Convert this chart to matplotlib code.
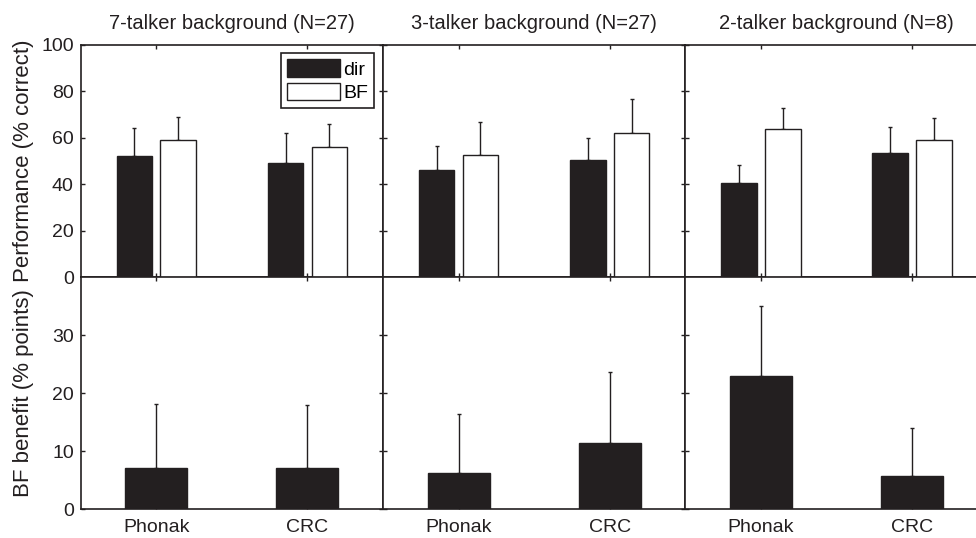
import numpy as np
import matplotlib
matplotlib.use("Agg")
import matplotlib.pyplot as plt
from matplotlib.patches import Patch

plt.rcParams['font.family'] = ['Liberation Sans', 'DejaVu Sans']

# data
panels = ["7-talker background (N=27)", "3-talker background (N=27)", "2-talker background (N=8)"]
devices = ["Phonak", "CRC"]

dir_mean = [[52.1, 49.0], [46.3, 50.6], [40.7, 53.4]]
dir_top = [[64.1, 61.9], [56.3, 59.8], [48.4, 64.7]]
bf_mean = [[59.2, 56.2], [52.6, 62.0], [63.8, 59.0]]
bf_top = [[69.0, 65.8], [66.9, 76.5], [72.9, 68.4]]

benefit_mean = [[7.2, 7.1], [6.3, 11.5], [22.9, 5.7]]
benefit_top = [[18.2, 18.0], [16.4, 23.6], [35.0, 14.1]]

dark = "#231f20"
W, H = 976, 538

fig = plt.figure(figsize=(W / 100, H / 100), dpi=100)

left = 80.7 / W
pw = 302.3 / W
bot_b = (H - 509.3) / H
ph = 232.0 / H
top_b = (H - 277.3) / H
th = (277.3 - 44.7) / H

x = np.arange(1, 3)
off = 0.145
bw = 0.235
tick_fs = 14


def style(ax):
    for s in ax.spines.values():
        s.set_color(dark)
        s.set_linewidth(1.2)
    ax.tick_params(direction="in", length=3, width=1, colors=dark,
                   top=True, right=True, labelsize=tick_fs, labelcolor=dark, pad=5)
    ax.tick_params(axis="x", pad=7)
    ax.set_xlim(0.5, 2.5)
    ax.set_xticks(x)


for i in range(3):
    axt = fig.add_axes([left + i * pw, top_b, pw, th])
    axb = fig.add_axes([left + i * pw, bot_b, pw, ph])
    style(axt)
    style(axb)

    dm = np.array(dir_mean[i])
    bm = np.array(bf_mean[i])
    axt.bar(x - off, dm, bw, color=dark, edgecolor=dark, linewidth=1, zorder=3)
    axt.bar(x + off, bm, bw, color="white", edgecolor=dark, linewidth=1, zorder=3)
    axt.errorbar(x - off, dm, yerr=[np.zeros(2), np.array(dir_top[i]) - dm],
                 fmt="none", ecolor=dark, elinewidth=1, capsize=1.5, capthick=1, zorder=2)
    axt.errorbar(x + off, bm, yerr=[np.zeros(2), np.array(bf_top[i]) - bm],
                 fmt="none", ecolor=dark, elinewidth=1, capsize=1.5, capthick=1, zorder=2)
    axt.set_ylim(0, 100)
    axt.set_yticks(range(0, 101, 20))
    axt.set_xticklabels([])
    axt.set_title(panels[i], fontsize=14.5, color=dark, pad=11)

    em = np.array(benefit_mean[i])
    axb.bar(x, em, 0.41, color=dark, edgecolor=dark, linewidth=1, zorder=3)
    axb.errorbar(x, em, yerr=[np.zeros(2), np.array(benefit_top[i]) - em],
                 fmt="none", ecolor=dark, elinewidth=1, capsize=1.5, capthick=1, zorder=2)
    axb.set_ylim(0, 40)
    axb.set_yticks([0, 10, 20, 30])
    axb.set_xticklabels(devices)

    if i == 0:
        axt.set_ylabel("Performance (% correct)", fontsize=16, color=dark)
        axb.set_ylabel("BF benefit (% points)", fontsize=16, color=dark)
        axt.yaxis.set_label_coords(-0.155, 0.5)
        axb.yaxis.set_label_coords(-0.155, 0.5)
        handles = [Patch(facecolor=dark, edgecolor=dark, label="dir"),
                   Patch(facecolor="white", edgecolor=dark, label="BF")]
        leg = axt.legend(handles=handles, loc="upper right", fontsize=tick_fs,
                         fancybox=False, framealpha=1, edgecolor=dark,
                         handlelength=2.7, handleheight=1.0, handletextpad=0.2,
                         borderpad=0.3, labelspacing=0.2, borderaxespad=0.45)
        leg.get_frame().set_linewidth(1.2)
    else:
        axt.set_yticklabels([])
        axb.set_yticklabels([])

fig.savefig("out.png", dpi=100)
